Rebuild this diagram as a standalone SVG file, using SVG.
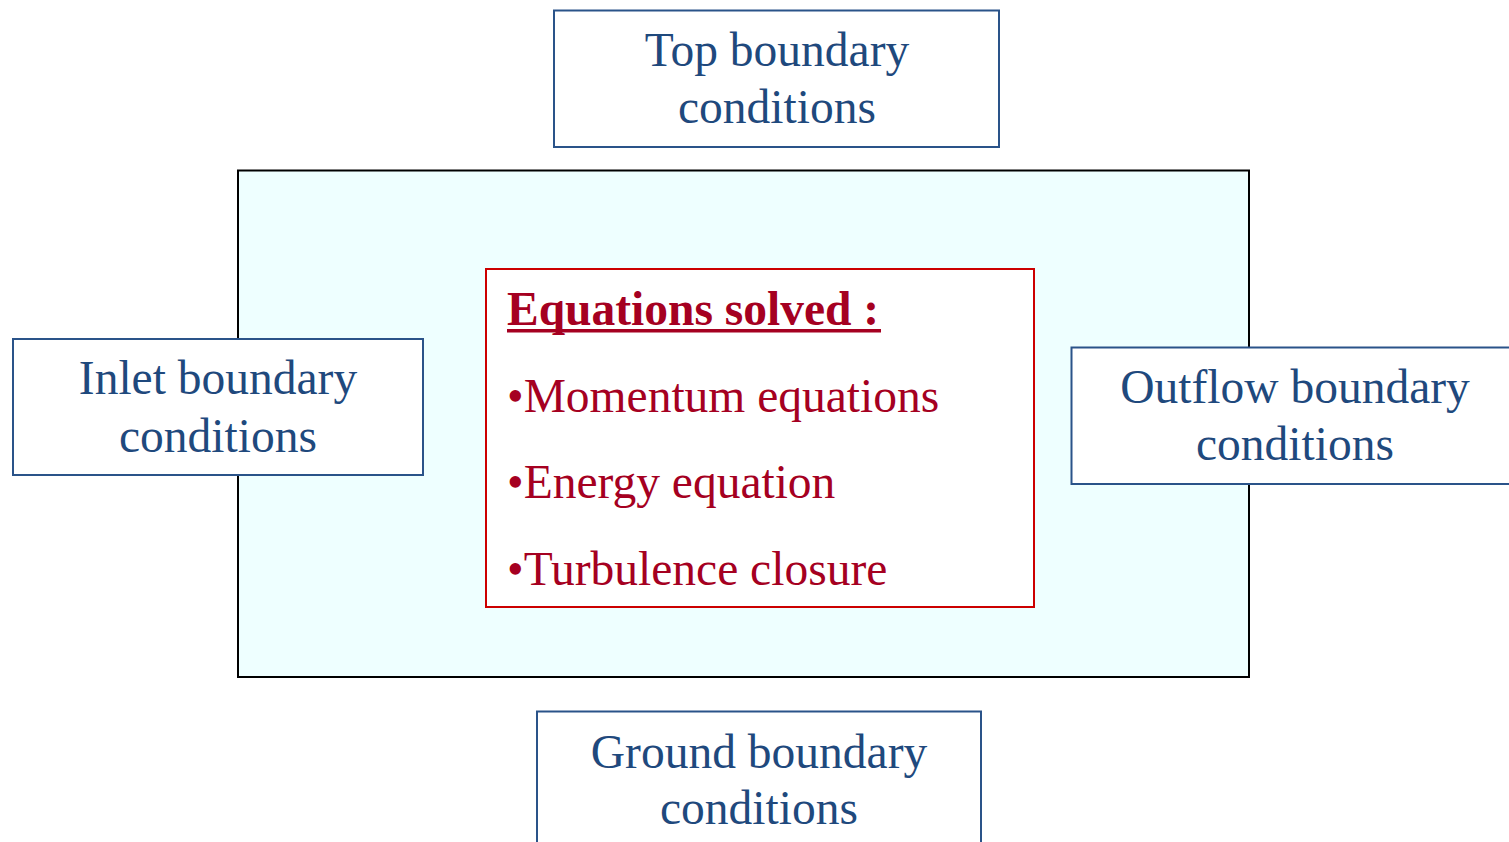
<svg xmlns="http://www.w3.org/2000/svg" width="1509" height="842" viewBox="0 0 1509 842">
<style>
.bc{fill:#ffffff;stroke:#2A5389;stroke-width:2}
.bt{font-family:"Liberation Serif","Times New Roman",serif;font-size:47.5px;fill:#1F497D;text-anchor:middle}
.rt{font-family:"Liberation Serif","Times New Roman",serif;font-size:47.5px;fill:#A50021}
</style>
<rect width="1509" height="842" fill="#ffffff"/>
<g id="domain">
<rect x="238" y="170.5" width="1011" height="506.5" fill="#EEFFFF" stroke="#000000" stroke-width="2"/>
</g>
<g id="equations">
<rect x="486" y="269" width="548" height="338" fill="#ffffff" stroke="#CC0000" stroke-width="2"/>
<text class="rt" x="507" y="325" font-weight="bold" font-size="47px">Equations solved :</text>
<rect x="507" y="329" width="374" height="3.5" fill="#A50021"/>
<text class="rt" x="507" y="412">•Momentum equations</text>
<text class="rt" x="507" y="498">•Energy equation</text>
<text class="rt" x="507" y="585">•Turbulence closure</text>
</g>
<g id="top">
<rect class="bc" x="554" y="10.5" width="445" height="136.5"/>
<text class="bt" x="777" y="66">Top boundary</text>
<text class="bt" x="777" y="123">conditions</text>
</g>
<g id="inlet">
<rect class="bc" x="13" y="339" width="410" height="136"/>
<text class="bt" x="218" y="394">Inlet boundary</text>
<text class="bt" x="218" y="452">conditions</text>
</g>
<g id="outflow">
<rect class="bc" x="1071.5" y="347.5" width="448" height="136.5"/>
<text class="bt" x="1295" y="403">Outflow boundary</text>
<text class="bt" x="1295" y="460">conditions</text>
</g>
<g id="ground">
<rect class="bc" x="537" y="711.5" width="444" height="140"/>
<text class="bt" x="759" y="768">Ground boundary</text>
<text class="bt" x="759" y="824">conditions</text>
</g>
<g id="connectors"></g>
</svg>
